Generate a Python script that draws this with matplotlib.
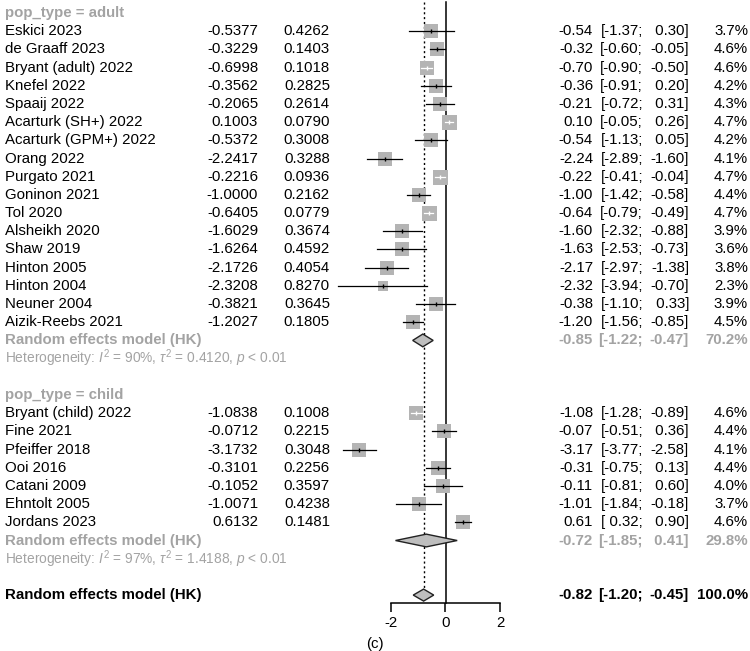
import numpy as np
import matplotlib.pyplot as plt
from matplotlib.patches import Polygon

plt.rcParams['font.family'] = ['Liberation Sans', 'DejaVu Sans']
plt.rcParams['mathtext.fontset'] = 'custom'
plt.rcParams['mathtext.rm'] = 'Liberation Sans'
plt.rcParams['mathtext.it'] = 'Liberation Sans:italic'
plt.rcParams['mathtext.bf'] = 'Liberation Sans:bold'
plt.rcParams['axes.unicode_minus'] = False

# adult subgroup
adult_study = ['Eskici 2023', 'de Graaff 2023', 'Bryant (adult) 2022', 'Knefel 2022',
               'Spaaij 2022', 'Acarturk (SH+) 2022', 'Acarturk (GPM+) 2022', 'Orang 2022',
               'Purgato 2021', 'Goninon 2021', 'Tol 2020', 'Alsheikh 2020', 'Shaw 2019',
               'Hinton 2005', 'Hinton 2004', 'Neuner 2004', 'Aizik-Reebs 2021']
adult_te = [-0.5377, -0.3229, -0.6998, -0.3562, -0.2065, 0.1003, -0.5372, -2.2417,
            -0.2216, -1.0000, -0.6405, -1.6029, -1.6264, -2.1726, -2.3208, -0.3821, -1.2027]
adult_se = [0.4262, 0.1403, 0.1018, 0.2825, 0.2614, 0.0790, 0.3008, 0.3288,
            0.0936, 0.2162, 0.0779, 0.3674, 0.4592, 0.4054, 0.8270, 0.3645, 0.1805]
adult_lo = [-1.37, -0.60, -0.90, -0.91, -0.72, -0.05, -1.13, -2.89,
            -0.41, -1.42, -0.79, -2.32, -2.53, -2.97, -3.94, -1.10, -1.56]
adult_hi = [0.30, -0.05, -0.50, 0.20, 0.31, 0.26, 0.05, -1.60,
            -0.04, -0.58, -0.49, -0.88, -0.73, -1.38, -0.70, 0.33, -0.85]
adult_w = [3.7, 4.6, 4.6, 4.2, 4.3, 4.7, 4.2, 4.1, 4.7, 4.4, 4.7, 3.9, 3.6, 3.8, 2.3, 3.9, 4.5]
adult_re = (-0.85, -1.22, -0.47, 70.2)
adult_het = r'Heterogeneity: $I^2$ = 90%, $\tau^2$ = 0.4120, $p$ < 0.01'

# child subgroup
child_study = ['Bryant (child) 2022', 'Fine 2021', 'Pfeiffer 2018', 'Ooi 2016',
               'Catani 2009', 'Ehntolt 2005', 'Jordans 2023']
child_te = [-1.0838, -0.0712, -3.1732, -0.3101, -0.1052, -1.0071, 0.6132]
child_se = [0.1008, 0.2215, 0.3048, 0.2256, 0.3597, 0.4238, 0.1481]
child_lo = [-1.28, -0.51, -3.77, -0.75, -0.81, -1.84, 0.32]
child_hi = [-0.89, 0.36, -2.58, 0.13, 0.60, -0.18, 0.90]
child_w = [4.6, 4.4, 4.1, 4.4, 4.0, 3.7, 4.6]
child_re = (-0.72, -1.85, 0.41, 29.8)
child_het = r'Heterogeneity: $I^2$ = 97%, $\tau^2$ = 1.4188, $p$ < 0.01'

overall_re = (-0.82, -1.20, -0.45, 100.0)

W, H = 750, 651
PX_UNIT = 27.3      # pixels per effect unit
X_ZERO = 446        # pixel of effect 0
ROW0, ROWH = 13, 18.19
GRAY = '#a3a3a3'
SQ = '#b4b4b4'
FS = 10.8

fig = plt.figure(figsize=(W / 100, H / 100), dpi=100)
ax = fig.add_axes([0, 0, 1, 1])
ax.set_xlim(-X_ZERO / PX_UNIT, (W - X_ZERO) / PX_UNIT)
ax.set_ylim((H - ROW0) / ROWH, -ROW0 / ROWH)
ax.axis('off')
tr = ax.get_yaxis_transform()


def px(x):
    return x / W


def num_cols(row, est, lo, hi, w, color='black', weight='normal'):
    kw = dict(transform=tr, va='center', fontsize=FS, color=color, fontweight=weight)
    ax.text(px(593), row, f'{est:.2f}', ha='right', **kw)
    ax.text(px(643), row, f'[{lo:5.2f};', ha='right', **kw)
    ax.text(px(689), row, f'{hi:5.2f}]', ha='right', **kw)
    ax.text(px(748), row, f'{w:.1f}%', ha='right', **kw)


def diamond(row, est, lo, hi, half=0.35):
    ax.add_patch(Polygon([[lo, row], [est, row - half], [hi, row], [est, row + half]],
                         closed=True, facecolor='#bebebe', edgecolor='#222222',
                         lw=1.0, zorder=4))


def subgroup(start, label, names, te, se, lo, hi, w, re, het):
    ax.text(px(5), start, label, transform=tr, va='center', fontsize=FS,
            color=GRAY, fontweight='bold')
    for i in range(len(names)):
        r = start + 1 + i
        ax.text(px(5), r, names[i], transform=tr, va='center', fontsize=FS)
        ax.text(px(258), r, f'{te[i]:.4f}', transform=tr, va='center', ha='right', fontsize=FS)
        ax.text(px(330), r, f'{se[i]:.4f}', transform=tr, va='center', ha='right', fontsize=FS)
        num_cols(r, te[i], lo[i], hi[i], w[i])
        side = 15 * np.sqrt(w[i] / 4.7)
        ax.scatter([te[i]], [r], marker='s', s=(side * 0.72) ** 2, color=SQ,
                   linewidths=0, zorder=3)
        inside = (hi[i] - lo[i]) * PX_UNIT < side
        col = 'white' if inside else 'black'
        ax.plot([lo[i], hi[i]], [r, r], color=col, lw=0.9, zorder=5)
        ax.scatter([te[i]], [r], marker='|', s=12, color=col, linewidths=1, zorder=5)
    r = start + 1 + len(names)
    ax.text(px(5), r, 'Random effects model (HK)', transform=tr, va='center',
            fontsize=FS, color=GRAY, fontweight='bold')
    num_cols(r, *re, color=GRAY, weight='bold')
    diamond(r, re[0], re[1], re[2])
    ax.text(px(5), r + 1, het, transform=tr, va='center', fontsize=9.9, color=GRAY)
    return r + 3


nxt = subgroup(0, 'pop_type = adult', adult_study, adult_te, adult_se, adult_lo,
               adult_hi, adult_w, adult_re, adult_het)
nxt = subgroup(nxt, 'pop_type = child', child_study, child_te, child_se, child_lo,
               child_hi, child_w, child_re, child_het)

# overall
ov_row = nxt
ax.text(px(5), ov_row, 'Random effects model (HK)', transform=tr, va='center',
        fontsize=FS, fontweight='bold')
num_cols(ov_row, *overall_re, weight='bold')
diamond(ov_row, overall_re[0], overall_re[1], overall_re[2], half=0.33)

axis_row = (603 - ROW0) / ROWH
ax.plot([0, 0], [-0.6, axis_row], color='black', lw=1.1, zorder=2)
ax.plot([overall_re[0]] * 2, [-0.6, ov_row - 0.4], color='black', lw=1.0,
        linestyle=(0, (1.5, 2.0)), zorder=2)

# x axis
axx = fig.add_axes([px(390.7), 1 - 603 / H, (500 - 390.7) / W, 0.0001])
axx.set_xlim(-2, 2)
axx.set_facecolor('none')
for s in ['top', 'left', 'right']:
    axx.spines[s].set_visible(False)
axx.spines['bottom'].set_linewidth(1.1)
axx.set_yticks([])
axx.set_xticks([-2, 0, 2])
axx.set_xticklabels(['-2', '0', '2'], fontsize=FS)
axx.tick_params(axis='x', direction='out', length=6.5, width=1.1, pad=3)

fig.text(0.5, 1 - 644 / H, '(c)', ha='center', va='center', fontsize=FS)

fig.savefig('out.png', dpi=100)
